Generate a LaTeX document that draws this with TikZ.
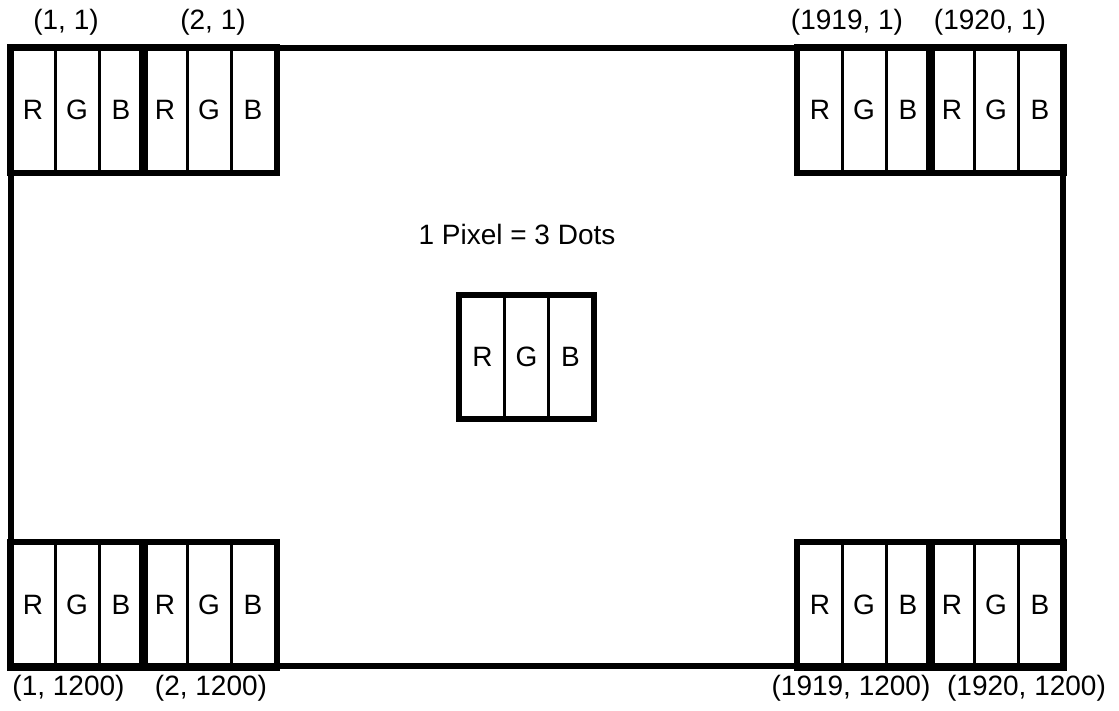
\documentclass[tikz,border=0pt]{standalone}
\usepackage{fontspec}
\setmainfont{Liberation Sans}
\usetikzlibrary{positioning}

\begin{document}
\begin{tikzpicture}[x=1pt,y=-1pt,node distance=44pt,font=\fontsize{28pt}{34pt}\selectfont,
  main/.style = {draw, line width=3pt, minimum width=44pt, minimum height=123pt, inner sep=0pt},
  pix/.style = {draw, line width=6pt}]
\useasboundingbox (0,0) rectangle (1119,710);
\draw[pix] (11,48) rectangle (1063,666);

\node (1) [main] at (33,109.5) {R};
\node (2) [main, right of=1] {G};
\node (3) [main, right of=2] {B};
\node (4) [main, right of=3] {R};
\node (5) [main, right of=4] {G};
\node (6) [main, right of=5] {B};

\node (7) [main] at (820,109.5) {R};
\node (8) [main, right of=7] {G};
\node (9) [main, right of=8] {B};
\node (10) [main, right of=9] {R};
\node (11) [main, right of=10] {G};
\node (12) [main, right of=11] {B};

\node (13) [main] at (33,604.5) {R};
\node (14) [main, right of=13] {G};
\node (15) [main, right of=14] {B};
\node (16) [main, right of=15] {R};
\node (17) [main, right of=16] {G};
\node (18) [main, right of=17] {B};

\node (19) [main] at (820,604.5) {R};
\node (20) [main, right of=19] {G};
\node (21) [main, right of=20] {B};
\node (22) [main, right of=21] {R};
\node (23) [main, right of=22] {G};
\node (24) [main, right of=23] {B};

\node (25) [main, minimum height=121pt] at (482.5,356.5) {R};
\node (26) [main, minimum height=121pt, right of=25] {G};
\node (27) [main, minimum height=121pt, right of=26] {B};

\draw[pix] (1.north west) rectangle (3.south east);
\draw[pix] (4.north west) rectangle (6.south east);
\draw[pix] (7.north west) rectangle (9.south east);
\draw[pix] (10.north west) rectangle (12.south east);
\draw[pix] (13.north west) rectangle (15.south east);
\draw[pix] (16.north west) rectangle (18.south east);
\draw[pix] (19.north west) rectangle (21.south east);
\draw[pix] (22.north west) rectangle (24.south east);
\draw[pix] (25.north west) rectangle (27.south east);

\node (a) at (66,22) {(1, 1)};
\node (b) at (213,22) {(2, 1)};
\node (c) at (847,22) {(1919, 1)};
\node (d) at (990,22) {(1920, 1)};
\node (e) at (68.5,688) {(1, 1200)};
\node (f) at (211,688) {(2, 1200)};
\node (g) at (851,688) {(1919, 1200)};
\node (h) at (1026.5,688) {(1920, 1200)};

\node (t) at (517,234) {1 Pixel = 3 Dots};

\end{tikzpicture}
\end{document}
